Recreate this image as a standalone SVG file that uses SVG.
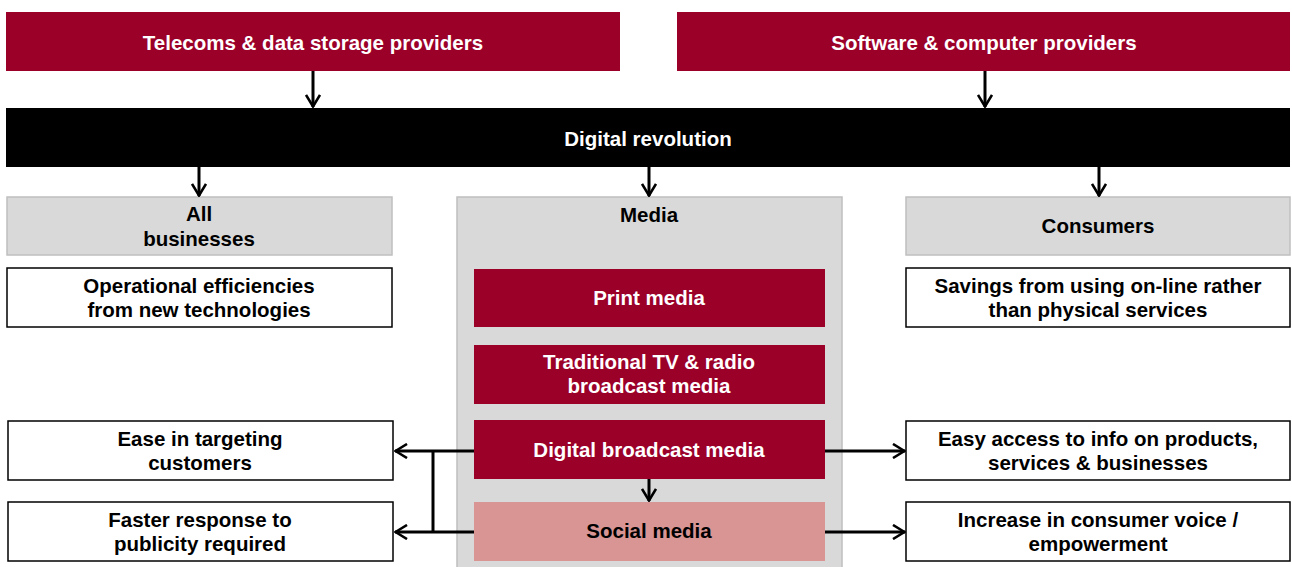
<svg xmlns="http://www.w3.org/2000/svg" width="1292" height="567" viewBox="0 0 1292 567">
  <style>
    text { font-family: "Liberation Sans", Arial, sans-serif; font-weight: bold; font-size: 20.5px; text-anchor: middle; dominant-baseline: central; }
    .light { fill: #ffffff; }
    .dark { fill: #000000; }
    .red { fill: #9B0029; }
    .pink { fill: #D99594; }
    .group { fill: #D9D9D9; stroke: #BFBFBF; stroke-width: 1.5; }
    .bar { fill: #000000; }
    .outcome { fill: #ffffff; stroke: #000000; stroke-width: 1.5; }
    .conn { fill: none; stroke: #000000; stroke-width: 3; }
  </style>
  <defs>
    <marker id="arrow" viewBox="0 0 14 16" refX="13" refY="8" markerWidth="14" markerHeight="16" markerUnits="userSpaceOnUse" orient="auto">
      <polyline points="1,1 12.5,8 1,15" fill="none" stroke="#000" stroke-width="2.6"/>
    </marker>
  </defs>

  <!-- suppliers -->
  <g id="telecoms">
    <rect class="red" x="6" y="12" width="614" height="59"/>
    <text class="light" x="313" y="42">Telecoms &amp; data storage providers</text>
  </g>
  <g id="software">
    <rect class="red" x="677" y="12" width="613" height="59"/>
    <text class="light" x="984" y="42">Software &amp; computer providers</text>
  </g>

  <!-- central band -->
  <g id="digital-revolution">
    <rect class="bar" x="6" y="108" width="1284" height="59"/>
    <text class="light" x="648" y="138">Digital revolution</text>
  </g>

  <!-- affected groups -->
  <g id="all-businesses">
    <rect class="group" x="7" y="197" width="385" height="58"/>
    <text class="dark" x="199" y="213.5">All</text>
    <text class="dark" x="199" y="238.5">businesses</text>
  </g>
  <g id="media">
    <rect class="group" x="457" y="197" width="385" height="380"/>
    <text class="dark" x="649" y="214.5">Media</text>
  </g>
  <g id="consumers">
    <rect class="group" x="906" y="197" width="384" height="58"/>
    <text class="dark" x="1098" y="225.5">Consumers</text>
  </g>

  <!-- media segments -->
  <g id="print-media">
    <rect class="red" x="474" y="269" width="351" height="58"/>
    <text class="light" x="649" y="297.5">Print media</text>
  </g>
  <g id="traditional-media">
    <rect class="red" x="474" y="345" width="351" height="59"/>
    <text class="light" x="649" y="361.5">Traditional TV &amp; radio</text>
    <text class="light" x="649" y="385.5">broadcast media</text>
  </g>
  <g id="digital-media">
    <rect class="red" x="474" y="420" width="351" height="59"/>
    <text class="light" x="649" y="449.5">Digital broadcast media</text>
  </g>
  <g id="social-media">
    <rect class="pink" x="474" y="502" width="351" height="59"/>
    <text class="dark" x="649" y="530.5">Social media</text>
  </g>

  <!-- outcomes -->
  <g id="operational-efficiencies">
    <rect class="outcome" x="7" y="268" width="385" height="59"/>
    <text class="dark" x="199" y="285.5">Operational efficiencies</text>
    <text class="dark" x="199" y="309.5">from new technologies</text>
  </g>
  <g id="online-savings">
    <rect class="outcome" x="906" y="268" width="384" height="59"/>
    <text class="dark" x="1098" y="285.5">Savings from using on-line rather</text>
    <text class="dark" x="1098" y="309.5">than physical services</text>
  </g>
  <g id="targeting">
    <rect class="outcome" x="8" y="421" width="385" height="59"/>
    <text class="dark" x="200" y="438.5">Ease in targeting</text>
    <text class="dark" x="200" y="462.5">customers</text>
  </g>
  <g id="faster-response">
    <rect class="outcome" x="8" y="502" width="385" height="59"/>
    <text class="dark" x="200" y="519.5">Faster response to</text>
    <text class="dark" x="200" y="543.5">publicity required</text>
  </g>
  <g id="easy-access">
    <rect class="outcome" x="906" y="421" width="384" height="59"/>
    <text class="dark" x="1098" y="438.5">Easy access to info on products,</text>
    <text class="dark" x="1098" y="462.5">services &amp; businesses</text>
  </g>
  <g id="consumer-voice">
    <rect class="outcome" x="906" y="502" width="384" height="59"/>
    <text class="dark" x="1098" y="519.5">Increase in consumer voice /</text>
    <text class="dark" x="1098" y="543.5">empowerment</text>
  </g>

  <!-- connectors -->
  <g id="connectors">
    <line class="conn" x1="313" y1="71" x2="313" y2="107" marker-end="url(#arrow)"/>
    <line class="conn" x1="985" y1="71" x2="985" y2="107" marker-end="url(#arrow)"/>
    <line class="conn" x1="199" y1="167" x2="199" y2="196" marker-end="url(#arrow)"/>
    <line class="conn" x1="649" y1="167" x2="649" y2="196" marker-end="url(#arrow)"/>
    <line class="conn" x1="1099" y1="167" x2="1099" y2="196" marker-end="url(#arrow)"/>
    <line class="conn" x1="649" y1="479" x2="649" y2="501" marker-end="url(#arrow)"/>
    <line class="conn" x1="474" y1="451" x2="395" y2="451" marker-end="url(#arrow)"/>
    <line class="conn" x1="474" y1="532" x2="395" y2="532" marker-end="url(#arrow)"/>
    <line class="conn" x1="433" y1="451" x2="433" y2="532"/>
    <line class="conn" x1="825" y1="451" x2="905" y2="451" marker-end="url(#arrow)"/>
    <line class="conn" x1="825" y1="532" x2="905" y2="532" marker-end="url(#arrow)"/>
  </g>
</svg>
